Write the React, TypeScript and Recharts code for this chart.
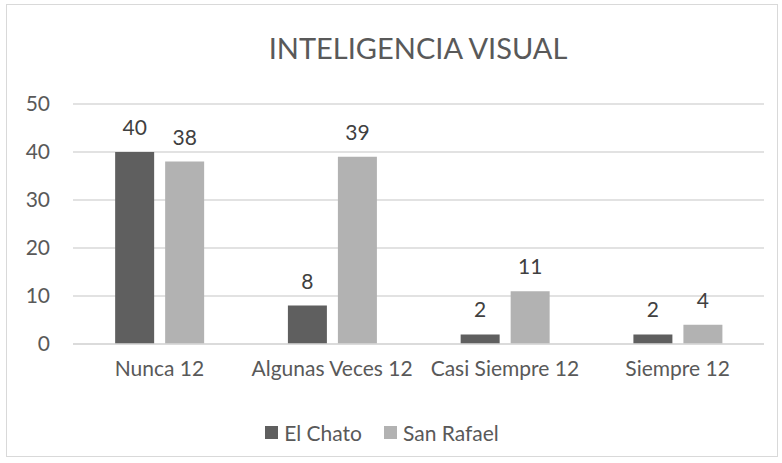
import React from 'react';
import { BarChart, Bar, XAxis, YAxis, CartesianGrid, Legend, LabelList } from 'recharts';

const categories = ['Nunca 12', 'Algunas Veces 12', 'Casi Siempre 12', 'Siempre 12'];
const elChato = [40, 8, 2, 2];
const sanRafael = [38, 39, 11, 4];
const yTicks = [0, 10, 20, 30, 40, 50];

const data = categories.map((name, i) => ({
  name,
  elChato: elChato[i],
  sanRafael: sanRafael[i],
}));

const FONT = 'Lato, "Open Sans", sans-serif';
const TEXT = '#595959';
const DARK = '#5f5f5f';
const LIGHT = '#b2b2b2';

const renderLegend = (props: any) => {
  const { payload } = props;
  return (
    <div style={{ display: 'flex', justifyContent: 'center', fontFamily: FONT, fontSize: 21, color: TEXT }}>
      {payload.map((entry: any, i: number) => (
        <div key={entry.value} style={{ display: 'flex', alignItems: 'center', marginLeft: i > 0 ? 22 : 0 }}>
          <span style={{ display: 'inline-block', width: 13, height: 13, background: entry.color, marginRight: 6 }} />
          <span>{entry.value}</span>
        </div>
      ))}
    </div>
  );
};

export default function App() {
  return (
    <div
      style={{
        position: 'absolute',
        left: 0,
        top: 0,
        width: 782,
        height: 463,
        background: '#fff',
        fontFamily: FONT,
      }}
    >
      <div
        style={{
          position: 'absolute',
          left: 6,
          top: 4,
          width: 772,
          height: 453,
          border: '1px solid #d9d9d9',
          boxSizing: 'border-box',
        }}
      />
      <div
        style={{
          position: 'absolute',
          left: 0,
          width: 836,
          top: 30,
          textAlign: 'center',
          fontSize: 29,
          color: TEXT,
        }}
      >
        INTELIGENCIA VISUAL
      </div>
      <BarChart
        width={782}
        height={463}
        data={data}
        margin={{ top: 104, right: 18, left: 0, bottom: 0 }}
        barCategoryGap="24.4%"
        barGap={11}
        style={{ position: 'absolute', left: 0, top: 0 }}
      >
        <CartesianGrid vertical={false} stroke="#d9d9d9" strokeWidth={1.5} />
        <XAxis
          dataKey="name"
          axisLine={{ stroke: '#d9d9d9', strokeWidth: 1.5 }}
          tickLine={false}
          tick={{ fill: TEXT, fontSize: 21, fontFamily: FONT }}
          tickMargin={11}
          height={79}
          interval={0}
        />
        <YAxis
          width={73}
          domain={[0, 50]}
          ticks={yTicks}
          axisLine={false}
          tickLine={false}
          tickMargin={17}
          tick={{ fill: TEXT, fontSize: 21, fontFamily: FONT }}
        />
        <Legend verticalAlign="bottom" height={40} content={renderLegend} wrapperStyle={{ bottom: 3 }} />
        <Bar dataKey="elChato" name="El Chato" fill={DARK} isAnimationActive={false}>
          <LabelList dataKey="elChato" position="top" offset={17} fill="#404040" fontSize={21} fontFamily={FONT} />
        </Bar>
        <Bar dataKey="sanRafael" name="San Rafael" fill={LIGHT} isAnimationActive={false}>
          <LabelList dataKey="sanRafael" position="top" offset={17} fill="#404040" fontSize={21} fontFamily={FONT} />
        </Bar>
      </BarChart>
    </div>
  );
}
